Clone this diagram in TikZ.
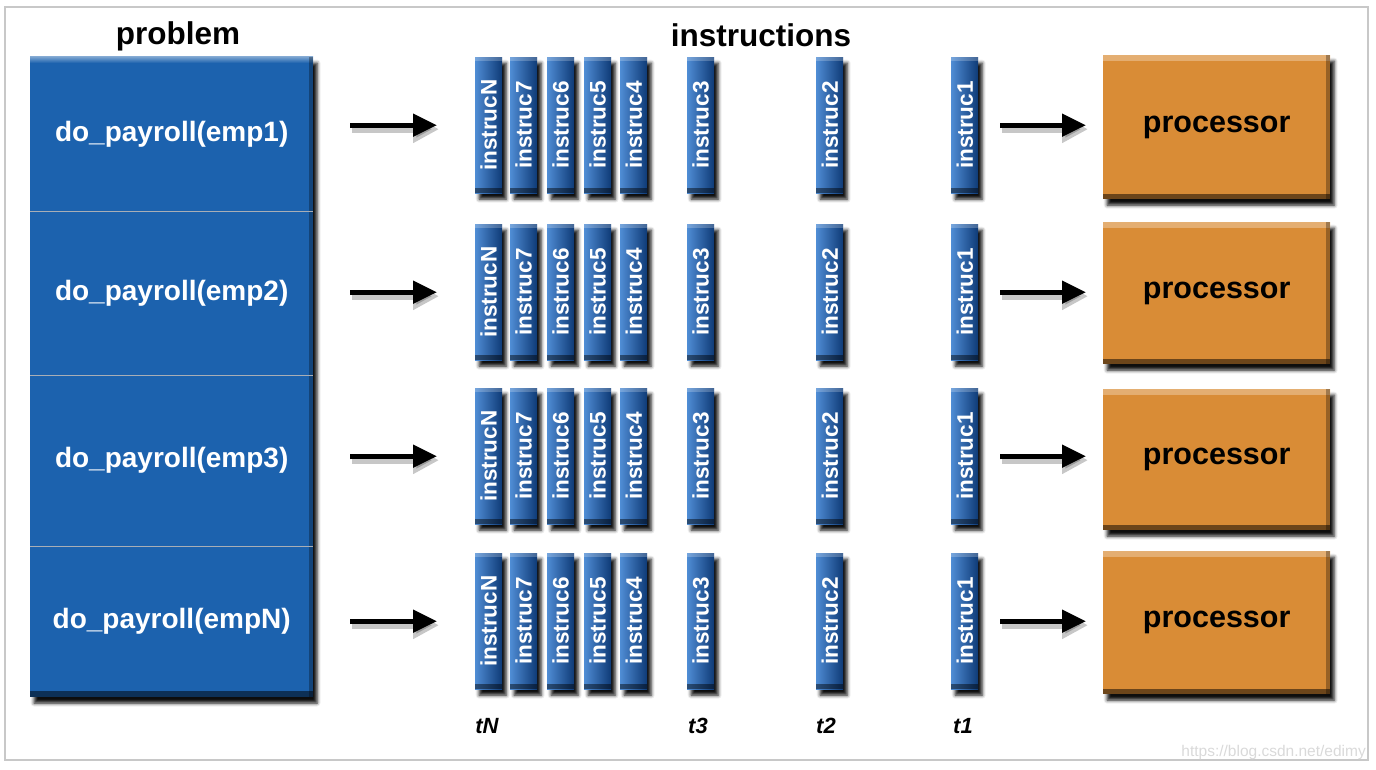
\documentclass[tikz,border=0pt]{standalone}
\usepackage{fontspec}
\setmainfont{Liberation Sans}
\usepackage{graphicx}
\usetikzlibrary{shadows.blur,arrows.meta,calc}
\definecolor{pblue}{HTML}{1C62AE}
\definecolor{barL}{HTML}{4F8CD4}
\definecolor{barM}{HTML}{1F66B6}
\definecolor{barR}{HTML}{0E3A76}
\definecolor{porange}{HTML}{D98C36}
\definecolor{framegray}{HTML}{C8C8C8}
\definecolor{sepgray}{HTML}{A8AEB6}
\begin{document}
\begin{tikzpicture}[x=1pt,y=-1pt,
  shd/.style={blur shadow={shadow xshift=4pt, shadow yshift=-6pt, shadow blur radius=3.5pt, shadow opacity=95}},
  probrow/.style={shape=rectangle, fill=pblue, draw=none, anchor=north west, minimum width=283pt, inner sep=0pt,
    text=white, font=\fontsize{28}{32}\selectfont\bfseries},
  bar/.style={shape=rectangle, draw=none, anchor=north west, minimum width=27pt, minimum height=136pt, inner sep=0pt,
    left color=barL, middle color=barM, right color=barR, shd, text=white,
    font=\fontsize{22.5}{25}\selectfont\bfseries,
    path picture={
      \fill[white,opacity=.22] (path picture bounding box.north west) rectangle ([yshift=-4pt]path picture bounding box.north east);
      \fill[black,opacity=.45] ([yshift=5pt]path picture bounding box.south west) rectangle (path picture bounding box.south east);
    }},
  proc/.style={shape=rectangle, fill=porange, draw=none, anchor=north west, minimum width=227pt, inner sep=0pt, shd,
    text=black, font=\fontsize{30.5}{34}\selectfont\bfseries,
    path picture={
      \shade[top color=white!30!porange, bottom color=porange] (path picture bounding box.north west) rectangle ([yshift=-5pt]path picture bounding box.north east);
      \fill[black,opacity=.5] ([yshift=5pt]path picture bounding box.south west) rectangle (path picture bounding box.south east);
      \fill[black,opacity=.3] ([xshift=-4pt]path picture bounding box.north east) rectangle (path picture bounding box.south east);
    }},
  head/.style={font=\fontsize{31.5}{34}\selectfont\bfseries, anchor=base, inner sep=0pt},
  tlab/.style={font=\fontsize{22}{24}\selectfont\bfseries\itshape, anchor=base, inner sep=0pt},
  arr/.style={line width=5pt, -{Triangle[length=24pt,width=22pt]}, black},
  arrsh/.style={line width=8pt, -{Triangle[length=26pt,width=26pt]}, black, opacity=.22, transform canvas={xshift=2pt,yshift=-4pt}},
  sepline/.style={draw=sepgray, line width=1.5pt}
]
\useasboundingbox (0,0) rectangle (1376,770);
\draw[framegray, line width=2pt] (5,7) rectangle (1368,760);

% headings
\node[head] (hprob) at (178,45) {problem};
\node[head] (hinst) at (761,47) {instructions};

% problem column
\path[shd, fill=pblue] (30,57) rectangle (313,697);
\node[probrow, minimum height=154pt] (p1) at (30,57) {\raisebox{6pt}{do\_payroll(emp1)}};
\node[probrow, minimum height=164pt] (p2) at (30,211) {do\_payroll(emp2)};
\node[probrow, minimum height=171pt] (p3) at (30,375) {do\_payroll(emp3)};
\node[probrow, minimum height=151pt] (p4) at (30,546) {do\_payroll(empN)};
\shade[top color=white!40!pblue, bottom color=pblue] (30,57) rectangle (313,63);
\fill[black,opacity=.5] (30,691) rectangle (313,697);
\fill[black,opacity=.3] (309,57) rectangle (313,697);
\draw[sepline] (p1.south west) -- (p1.south east);
\draw[sepline] (p2.south west) -- (p2.south east);
\draw[sepline] (p3.south west) -- (p3.south east);

% instruction bars
\foreach \r/\tp in {1/57,2/224,3/388,4/553} {
  \foreach \k/\x in {N/475,7/510,6/547,5/584,4/620,3/687,2/816,1/951} {
    \node[bar] (b\r-\k) at (\x,\tp) {\rotatebox{90}{instruc\k}};
  }
}

% processors
\node[proc, minimum height=144pt] (c1) at (1103,55) {processor};
\node[proc, minimum height=142pt] (c2) at (1103,222) {processor};
\node[proc, minimum height=141pt] (c3) at (1103,389) {processor};
\node[proc, minimum height=143pt] (c4) at (1103,551) {processor};

% arrows
\foreach \r in {1,2,3,4} {
  \draw[arrsh, shorten <=37pt, shorten >=38pt] (p\r.east |- b\r-N.west) -- (b\r-N.west);
  \draw[arr, shorten <=37pt, shorten >=38pt] (p\r.east |- b\r-N.west) -- (b\r-N.west);
  \draw[arrsh, shorten <=22pt, shorten >=17pt] (b\r-1.east) -- (c\r.west |- b\r-1.east);
  \draw[arr, shorten <=22pt, shorten >=17pt] (b\r-1.east) -- (c\r.west |- b\r-1.east);
}

% time labels
\node[tlab] (tN) at (487,733) {tN};
\node[tlab] (t3) at (698,733) {t3};
\node[tlab] (t2) at (826,733) {t2};
\node[tlab] (t1) at (963,733) {t1};

% watermark
\node[font=\fontsize{15.5}{18}\selectfont, text=black!15, anchor=base east, inner sep=0pt] (wm) at (1366,756) {https://blog.csdn.net/edimy};
\end{tikzpicture}
\end{document}
